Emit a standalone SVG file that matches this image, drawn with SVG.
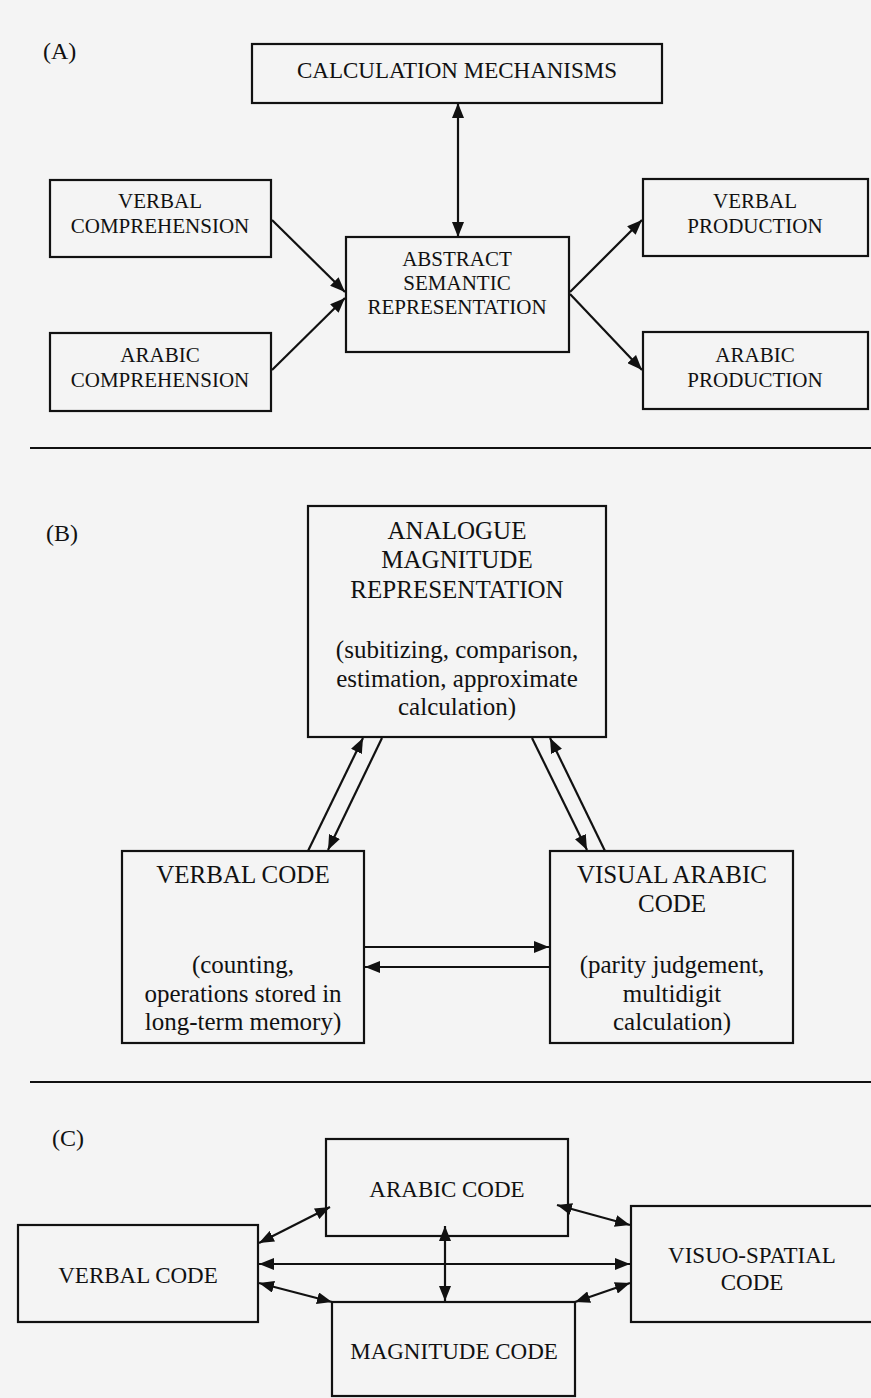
<svg xmlns="http://www.w3.org/2000/svg" width="871" height="1398" viewBox="0 0 871 1398">
<defs>
<marker id="ah" viewBox="0 0 15 12" refX="15" refY="6" markerWidth="15" markerHeight="12" markerUnits="userSpaceOnUse" orient="auto-start-reverse">
<path d="M0,0 L15,6 L0,12 z" fill="#111"/>
</marker>
</defs>
<style>
.box{fill:none;stroke:#111;stroke-width:2.2}
.t{font-family:"Liberation Serif","Times New Roman",serif;fill:#111;text-anchor:middle}
.a{font-size:21px}
.b{font-size:25px}
.c{font-size:23px}
.lab{font-family:"Liberation Serif","Times New Roman",serif;fill:#111;font-size:24px}
.ln{stroke:#111;stroke-width:2.2;fill:none}
.one{marker-end:url(#ah)}
.two{marker-start:url(#ah);marker-end:url(#ah)}
</style>
<rect x="0" y="0" width="871" height="1398" fill="#f4f4f4"/>

<g id="labels">
<text class="lab" x="43" y="59">(A)</text>
<text class="lab" x="46" y="541">(B)</text>
<text class="lab" x="52" y="1146">(C)</text>
</g>

<g id="separators">
<line class="ln" x1="30" y1="448" x2="871" y2="448"/>
<line class="ln" x1="30" y1="1082" x2="871" y2="1082"/>
</g>

<!-- Section A -->
<g id="calc">
<rect class="box" x="252" y="44" width="410" height="59"/>
<text class="t" style="font-size:23px" x="457" y="78">CALCULATION MECHANISMS</text>
</g>
<g id="verbal-comp">
<rect class="box" x="50" y="180" width="221" height="77"/>
<text class="t a" x="160" y="208">VERBAL</text>
<text class="t a" x="160" y="233">COMPREHENSION</text>
</g>
<g id="arabic-comp">
<rect class="box" x="50" y="333" width="221" height="78"/>
<text class="t a" x="160" y="362">ARABIC</text>
<text class="t a" x="160" y="387">COMPREHENSION</text>
</g>
<g id="abstract">
<rect class="box" x="346" y="237" width="223" height="115"/>
<text class="t a" x="457" y="266">ABSTRACT</text>
<text class="t a" x="457" y="290">SEMANTIC</text>
<text class="t a" x="457" y="314">REPRESENTATION</text>
</g>
<g id="verbal-prod">
<rect class="box" x="643" y="179" width="225" height="77"/>
<text class="t a" x="755" y="208">VERBAL</text>
<text class="t a" x="755" y="233">PRODUCTION</text>
</g>
<g id="arabic-prod">
<rect class="box" x="643" y="332" width="225" height="77"/>
<text class="t a" x="755" y="362">ARABIC</text>
<text class="t a" x="755" y="387">PRODUCTION</text>
</g>

<!-- Section B -->
<g id="analogue">
<rect class="box" x="308" y="506" width="298" height="231"/>
<text class="t b" x="457" y="539">ANALOGUE</text>
<text class="t b" x="457" y="568">MAGNITUDE</text>
<text class="t b" x="457" y="598">REPRESENTATION</text>
<text class="t b" x="457" y="658">(subitizing, comparison,</text>
<text class="t b" x="457" y="687">estimation, approximate</text>
<text class="t b" x="457" y="715">calculation)</text>
</g>
<g id="verbal-code-b">
<rect class="box" x="122" y="851" width="242" height="192"/>
<text class="t b" x="243" y="883">VERBAL CODE</text>
<text class="t b" x="243" y="973">(counting,</text>
<text class="t b" x="243" y="1002">operations stored in</text>
<text class="t b" x="243" y="1030">long-term memory)</text>
</g>
<g id="visual-arabic">
<rect class="box" x="550" y="851" width="243" height="192"/>
<text class="t b" x="672" y="883">VISUAL ARABIC</text>
<text class="t b" x="672" y="912">CODE</text>
<text class="t b" x="672" y="973">(parity judgement,</text>
<text class="t b" x="672" y="1002">multidigit</text>
<text class="t b" x="672" y="1030">calculation)</text>
</g>

<!-- Section C -->
<g id="arabic-code">
<rect class="box" x="326" y="1139" width="242" height="97"/>
<text class="t c" x="447" y="1197">ARABIC CODE</text>
</g>
<g id="verbal-code-c">
<rect class="box" x="18" y="1225" width="240" height="97"/>
<text class="t c" x="138" y="1283">VERBAL CODE</text>
</g>
<g id="visuo-spatial">
<rect class="box" x="631" y="1206" width="242" height="116"/>
<text class="t c" x="752" y="1263">VISUO-SPATIAL</text>
<text class="t c" x="752" y="1290">CODE</text>
</g>
<g id="magnitude-code">
<rect class="box" x="332" y="1302" width="243" height="94"/>
<text class="t c" x="454" y="1359">MAGNITUDE CODE</text>
</g>

<g id="connectors">
<!-- A -->
<line class="ln two" x1="458" y1="103" x2="458" y2="237"/>
<line class="ln one" x1="272" y1="220" x2="345" y2="292"/>
<line class="ln one" x1="272" y1="370" x2="345" y2="298"/>
<line class="ln one" x1="570" y1="292" x2="642" y2="220"/>
<line class="ln one" x1="570" y1="294" x2="642" y2="370"/>
<!-- B -->
<line class="ln one" x1="308" y1="851" x2="363" y2="738"/>
<line class="ln one" x1="382" y1="738" x2="328" y2="850"/>
<line class="ln one" x1="532" y1="738" x2="587" y2="850"/>
<line class="ln one" x1="605" y1="851" x2="550" y2="738"/>
<line class="ln one" x1="364" y1="947" x2="549" y2="947"/>
<line class="ln one" x1="550" y1="967" x2="365" y2="967"/>
<!-- C -->
<line class="ln two" x1="259" y1="1243" x2="330" y2="1207"/>
<line class="ln two" x1="557" y1="1205" x2="630" y2="1225"/>
<line class="ln two" x1="259" y1="1264" x2="630" y2="1264"/>
<line class="ln two" x1="445" y1="1226" x2="445" y2="1301"/>
<line class="ln two" x1="259" y1="1283" x2="332" y2="1302"/>
<line class="ln two" x1="575" y1="1302" x2="630" y2="1283"/>
</g>
</svg>
